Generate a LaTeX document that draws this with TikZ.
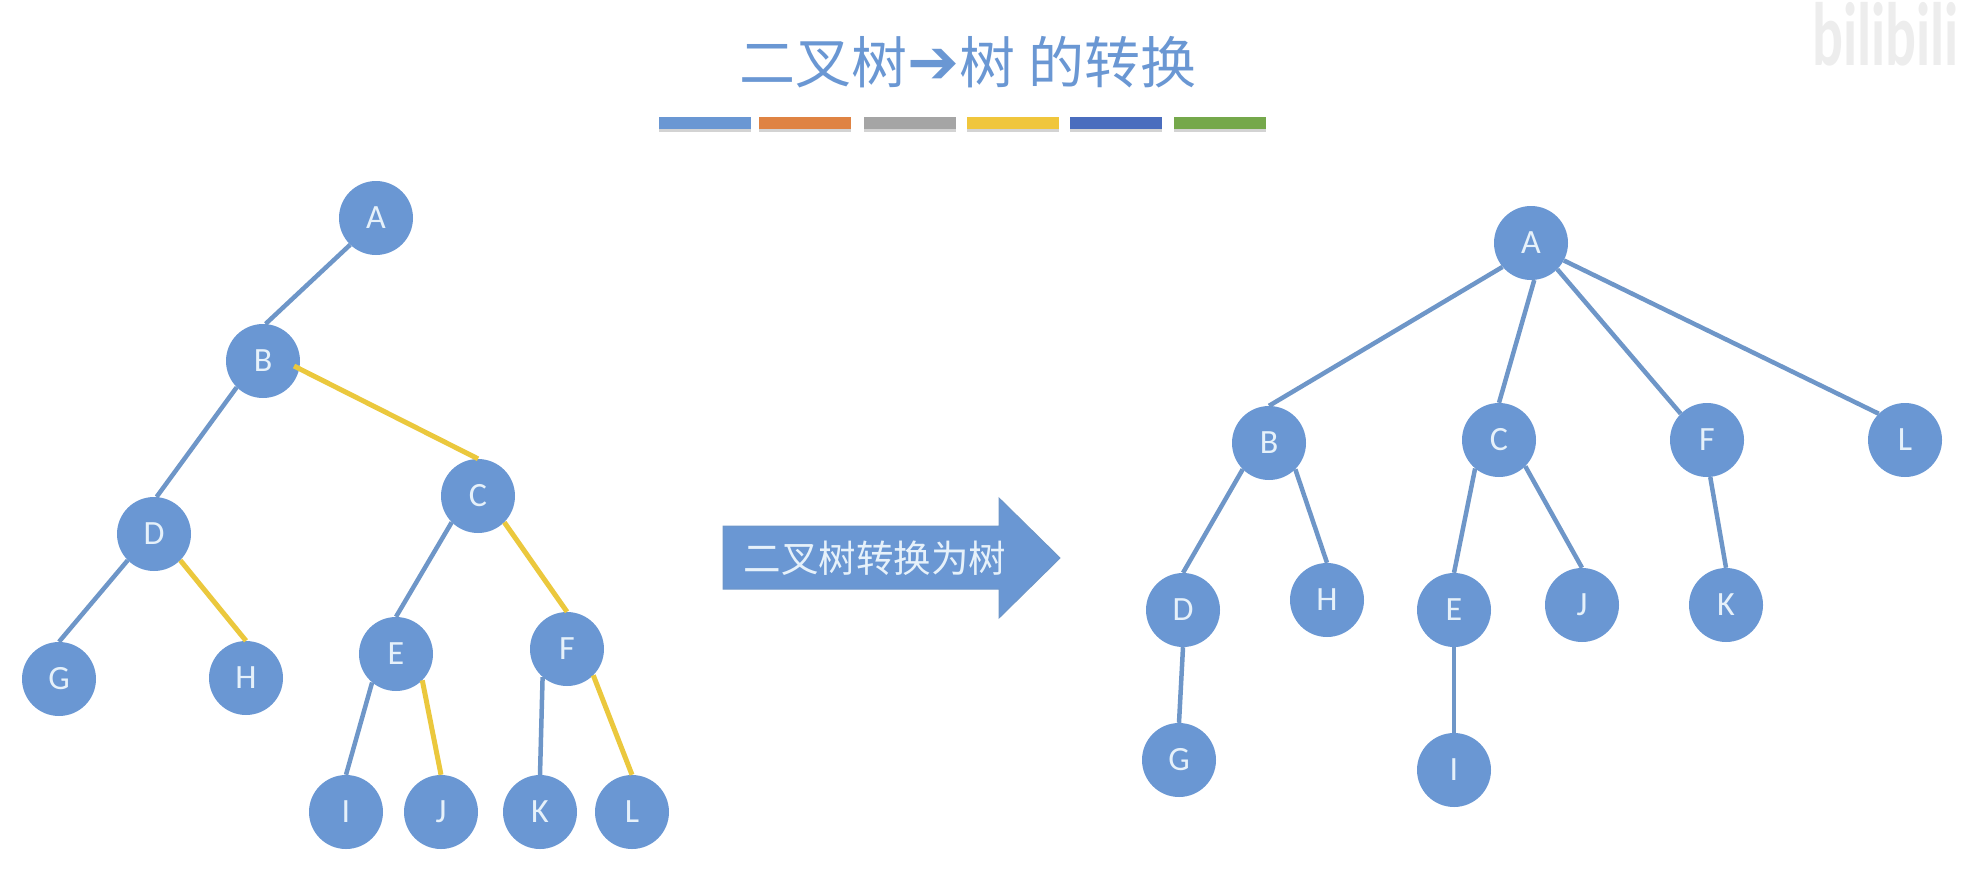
\documentclass[tikz,border=0pt]{standalone}
\usepackage{fontspec}
\setmainfont{Carlito}
\newfontfamily\cjk{Noto Sans CJK SC}
\newfontfamily\arrowfont{DejaVu Sans}
\usetikzlibrary{shadows}
\definecolor{treeblue}{HTML}{6A97D3}
\definecolor{lineblue}{HTML}{6E96C8}
\definecolor{lineyellow}{HTML}{EBC83D}
\definecolor{nodetext}{HTML}{E6F1FA}
\definecolor{barorange}{HTML}{DF8343}
\definecolor{bargray}{HTML}{A5A5A5}
\definecolor{baryellow}{HTML}{F0C63C}
\definecolor{barblue}{HTML}{4A6DBE}
\definecolor{bargreen}{HTML}{75A84B}
\tikzset{
  treenode/.style={circle,fill=treeblue,minimum size=74pt,inner sep=0pt,text=nodetext,font=\fontsize{34}{34}\selectfont},
  blueedge/.style={draw=lineblue,line width=4.5pt},
  yellowedge/.style={draw=lineyellow,line width=5pt},
  colorbar/.style={minimum width=92pt,minimum height=12pt,inner sep=0pt,drop shadow={shadow xshift=0pt,shadow yshift=-3pt,opacity=.35}},
}
\begin{document}
\begin{tikzpicture}[x=1pt,y=-1pt]
  \useasboundingbox (0,0) rectangle (1961,889);
  % heading
  \node[text=treeblue,font=\fontsize{56}{56}\cjk,inner sep=0pt] (title) at (968,62) {二叉树{\arrowfont\fontsize{62}{62}\selectfont ➔}树 的转换};
  \node[text=black!7,font=\fontsize{90}{90}\selectfont\bfseries,inner sep=0pt,anchor=west] (mark) at (1812,34) {\scalebox{.64}[1]{bilibili}};
  \node[colorbar,fill=treeblue] (bar1) at (705,123) {};
  \node[colorbar,fill=barorange] (bar2) at (805,123) {};
  \node[colorbar,fill=bargray] (bar3) at (910,123) {};
  \node[colorbar,fill=baryellow] (bar4) at (1013,123) {};
  \node[colorbar,fill=barblue] (bar5) at (1116,123) {};
  \node[colorbar,fill=bargreen] (bar6) at (1220,123) {};
  % left tree
  \node[treenode] (la) at (376,218) {A};
  \node[treenode] (lb) at (263,361) {B};
  \node[treenode] (lc) at (478,496) {C};
  \node[treenode] (ld) at (154,534) {D};
  \node[treenode] (le) at (396,654) {E};
  \node[treenode] (lf) at (567,649) {F};
  \node[treenode] (lg) at (59,679) {G};
  \node[treenode] (lh) at (246,678) {H};
  \node[treenode] (li) at (346,812) {I};
  \node[treenode] (lj) at (441,812) {J};
  \node[treenode] (lk) at (540,812) {K};
  \node[treenode] (ll) at (632,812) {L};
  \draw[blueedge] (la.226) -- (lb.86);
  \draw[blueedge] (lb.225) -- (ld.86);
  \draw[yellowedge,shorten <=-6pt] (lb.-12) -- (lc.90);
  \draw[blueedge] (lc.225) -- (le.90);
  \draw[yellowedge] (lc.-45) -- (lf.90);
  \draw[blueedge] (ld.225) -- (lg.90);
  \draw[yellowedge] (ld.-45) -- (lh.90);
  \draw[blueedge] (le.230) -- (li.90);
  \draw[yellowedge] (le.-45) -- (lj.90);
  \draw[blueedge] (lf.229) -- (lk.90);
  \draw[yellowedge] (lf.-45) -- (ll.90);
  % arrow
  \fill[treeblue,draw=lineblue,line width=1pt] (723,526) -- (999,526) -- (999,498) -- (1060,558) -- (999,618) -- (999,589) -- (723,589) -- cycle;
  \node[text=nodetext,font=\fontsize{37.5}{37.5}\cjk,inner sep=0pt] (convert) at (875,558) {二叉树转换为树};
  % right tree
  \node[treenode] (ra) at (1531,243) {A};
  \node[treenode] (rb) at (1269,443) {B};
  \node[treenode] (rc) at (1499,440) {C};
  \node[treenode] (rf) at (1707,440) {F};
  \node[treenode] (rl) at (1905,440) {L};
  \node[treenode] (rd) at (1183,610) {D};
  \node[treenode] (rh) at (1327,600) {H};
  \node[treenode] (re) at (1454,610) {E};
  \node[treenode] (rj) at (1582,605) {J};
  \node[treenode] (rk) at (1726,605) {K};
  \node[treenode] (rg) at (1179,760) {G};
  \node[treenode] (ri) at (1454,770) {I};
  \draw[blueedge] (ra.220) -- (rb.90);
  \draw[blueedge] (ra.-85) -- (rc.90);
  \draw[blueedge] (ra.-45) -- (rf.135);
  \draw[blueedge] (ra.-28) -- (rl.135);
  \draw[blueedge] (rb.225) -- (rd.90);
  \draw[blueedge] (rb.-45) -- (rh.90);
  \draw[blueedge] (rc.230) -- (re.90);
  \draw[blueedge] (rc.-45) -- (rj.90);
  \draw[blueedge] (rf.-85) -- (rk.90);
  \draw[blueedge] (rd.-90) -- (rg.90);
  \draw[blueedge] (re.-90) -- (ri.90);
\end{tikzpicture}
\end{document}
